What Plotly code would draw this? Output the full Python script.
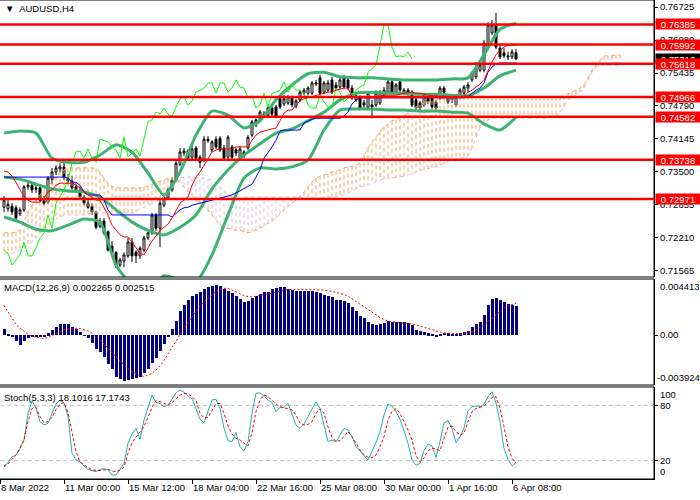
import plotly.graph_objects as go

FONT = "Liberation Sans, Arial, sans-serif"

# ---------------- price data (H4 bars, 8 Mar 08:00 .. 6 Apr 08:00) ----------------
opens = [0.7281, 0.7278, 0.7283, 0.7280, 0.7268, 0.7276, 0.7321, 0.7324, 0.7319, 0.7319,
         0.7297, 0.7291, 0.7336, 0.7350, 0.7356, 0.7360, 0.7338, 0.7332, 0.7321, 0.7315,
         0.7301, 0.7289, 0.7283, 0.7272, 0.7244, 0.7254, 0.7233, 0.7205, 0.7193, 0.7168,
         0.7176, 0.7186, 0.7213, 0.7193, 0.7186, 0.7197, 0.7221, 0.7231, 0.7266, 0.7240,
         0.7285, 0.7299, 0.7315, 0.7334, 0.7365, 0.7387, 0.7391, 0.7379, 0.7397, 0.7379,
         0.7373, 0.7414, 0.7393, 0.7414, 0.7416, 0.7397, 0.7379, 0.7399, 0.7393, 0.7377,
         0.7389, 0.7397, 0.7422, 0.7442, 0.7452, 0.7461, 0.7461, 0.7475, 0.7477, 0.7493,
         0.7483, 0.7485, 0.7495, 0.7479, 0.7491, 0.7504, 0.7504, 0.7504, 0.7522, 0.7534,
         0.7506, 0.7510, 0.7530, 0.7520, 0.7516, 0.7534, 0.7530, 0.7514, 0.7491, 0.7495,
         0.7485, 0.7477, 0.7481, 0.7481, 0.7485, 0.7500, 0.7506, 0.7526, 0.7504, 0.7526,
         0.7504, 0.7510, 0.7506, 0.7491, 0.7485, 0.7481, 0.7495, 0.7495, 0.7487, 0.7495,
         0.7514, 0.7495, 0.7491, 0.7481, 0.7500, 0.7504, 0.7514, 0.7530, 0.7536, 0.7549,
         0.7549, 0.7594, 0.7622, 0.7637, 0.7592, 0.7583, 0.7577, 0.7575, 0.7583]
highs = [0.7303, 0.7295, 0.7289, 0.7285, 0.7281, 0.7324, 0.7330, 0.7328, 0.7324, 0.7322,
         0.7303, 0.7342, 0.7358, 0.7363, 0.7367, 0.7369, 0.7346, 0.7342, 0.7328, 0.7322,
         0.7305, 0.7295, 0.7289, 0.7274, 0.7260, 0.7260, 0.7236, 0.7215, 0.7195, 0.7182,
         0.7193, 0.7221, 0.7221, 0.7197, 0.7205, 0.7225, 0.7235, 0.7270, 0.7270, 0.7295,
         0.7305, 0.7319, 0.7338, 0.7373, 0.7397, 0.7397, 0.7395, 0.7401, 0.7401, 0.7383,
         0.7420, 0.7420, 0.7412, 0.7420, 0.7420, 0.7403, 0.7422, 0.7403, 0.7397, 0.7401,
         0.7393, 0.7422, 0.7452, 0.7455, 0.7471, 0.7469, 0.7481, 0.7479, 0.7481, 0.7497,
         0.7500, 0.7500, 0.7499, 0.7493, 0.7510, 0.7514, 0.7518, 0.7528, 0.7530, 0.7540,
         0.7528, 0.7530, 0.7536, 0.7526, 0.7536, 0.7540, 0.7536, 0.7520, 0.7504, 0.7500,
         0.7491, 0.7508, 0.7491, 0.7510, 0.7510, 0.7516, 0.7532, 0.7532, 0.7524, 0.7530,
         0.7514, 0.7514, 0.7510, 0.7495, 0.7489, 0.7504, 0.7499, 0.7499, 0.7491, 0.7518,
         0.7518, 0.7499, 0.7499, 0.7499, 0.7514, 0.7520, 0.7526, 0.7547, 0.7565, 0.7565,
         0.7608, 0.7643, 0.7647, 0.7661, 0.7598, 0.7592, 0.7585, 0.7590, 0.7590]
lows = [0.7272, 0.7272, 0.7266, 0.7256, 0.7264, 0.7272, 0.7315, 0.7309, 0.7309, 0.7291,
        0.7285, 0.7287, 0.7326, 0.7344, 0.7350, 0.7334, 0.7326, 0.7315, 0.7311, 0.7297,
        0.7285, 0.7278, 0.7266, 0.7238, 0.7240, 0.7227, 0.7195, 0.7188, 0.7162, 0.7164,
        0.7164, 0.7182, 0.7174, 0.7172, 0.7180, 0.7193, 0.7217, 0.7227, 0.7235, 0.7203,
        0.7281, 0.7295, 0.7311, 0.7330, 0.7361, 0.7381, 0.7373, 0.7375, 0.7373, 0.7358,
        0.7369, 0.7407, 0.7389, 0.7395, 0.7389, 0.7373, 0.7375, 0.7375, 0.7381, 0.7373,
        0.7377, 0.7393, 0.7418, 0.7438, 0.7448, 0.7457, 0.7457, 0.7459, 0.7455, 0.7473,
        0.7479, 0.7481, 0.7477, 0.7475, 0.7487, 0.7500, 0.7500, 0.7500, 0.7518, 0.7500,
        0.7502, 0.7506, 0.7502, 0.7510, 0.7512, 0.7512, 0.7510, 0.7491, 0.7487, 0.7471,
        0.7475, 0.7473, 0.7455, 0.7477, 0.7481, 0.7497, 0.7502, 0.7502, 0.7502, 0.7506,
        0.7500, 0.7498, 0.7477, 0.7471, 0.7471, 0.7477, 0.7483, 0.7473, 0.7471, 0.7491,
        0.7502, 0.7483, 0.7485, 0.7477, 0.7497, 0.7500, 0.7506, 0.7526, 0.7532, 0.7545,
        0.7545, 0.7590, 0.7618, 0.7590, 0.7571, 0.7573, 0.7569, 0.7571, 0.7569]
closes = [0.7295, 0.7287, 0.7272, 0.7260, 0.7276, 0.7321, 0.7324, 0.7315, 0.7317, 0.7295,
          0.7289, 0.7338, 0.7350, 0.7358, 0.7360, 0.7338, 0.7332, 0.7319, 0.7315, 0.7301,
          0.7289, 0.7281, 0.7272, 0.7242, 0.7254, 0.7231, 0.7197, 0.7191, 0.7168, 0.7178,
          0.7188, 0.7213, 0.7186, 0.7186, 0.7201, 0.7221, 0.7231, 0.7266, 0.7240, 0.7289,
          0.7301, 0.7315, 0.7334, 0.7367, 0.7389, 0.7391, 0.7377, 0.7395, 0.7377, 0.7369,
          0.7414, 0.7411, 0.7409, 0.7399, 0.7393, 0.7377, 0.7418, 0.7379, 0.7387, 0.7395,
          0.7381, 0.7418, 0.7448, 0.7452, 0.7467, 0.7463, 0.7475, 0.7463, 0.7459, 0.7477,
          0.7493, 0.7497, 0.7481, 0.7489, 0.7506, 0.7510, 0.7514, 0.7524, 0.7524, 0.7504,
          0.7524, 0.7524, 0.7506, 0.7514, 0.7530, 0.7516, 0.7514, 0.7495, 0.7499, 0.7475,
          0.7481, 0.7504, 0.7477, 0.7504, 0.7506, 0.7510, 0.7526, 0.7506, 0.7520, 0.7510,
          0.7510, 0.7504, 0.7481, 0.7475, 0.7475, 0.7500, 0.7487, 0.7477, 0.7475, 0.7514,
          0.7506, 0.7487, 0.7495, 0.7495, 0.7510, 0.7516, 0.7520, 0.7544, 0.7553, 0.7559,
          0.7602, 0.7637, 0.7637, 0.7594, 0.7575, 0.7577, 0.7575, 0.7585, 0.7571]

# Bollinger bands, read every 4th bar
bb_upper = [0.7426, 0.7430, 0.7426, 0.7377, 0.7369, 0.7369, 0.7383, 0.7403, 0.7389, 0.7348,
            0.7305, 0.7350, 0.7422, 0.7469, 0.7461, 0.7436, 0.7450, 0.7491, 0.7520, 0.7542,
            0.7545, 0.7536, 0.7534, 0.7534, 0.7532, 0.7530, 0.7530, 0.7530, 0.7532, 0.7534,
            0.7579, 0.7629, 0.7641]
bb_mid = [0.7340, 0.7336, 0.7326, 0.7317, 0.7313, 0.7311, 0.7301, 0.7276, 0.7252, 0.7236,
          0.7227, 0.7242, 0.7266, 0.7317, 0.7354, 0.7383, 0.7405, 0.7426, 0.7434, 0.7450,
          0.7467, 0.7491, 0.7504, 0.7506, 0.7504, 0.7504, 0.7502, 0.7502, 0.7500, 0.7499,
          0.7514, 0.7538, 0.7549]
bb_lower = [0.7262, 0.7252, 0.7238, 0.7235, 0.7246, 0.7258, 0.7252, 0.7168, 0.7129, 0.7119,
            0.7147, 0.7139, 0.7135, 0.7188, 0.7266, 0.7338, 0.7358, 0.7356, 0.7360, 0.7373,
            0.7432, 0.7471, 0.7473, 0.7473, 0.7471, 0.7471, 0.7469, 0.7469, 0.7467, 0.7465,
            0.7444, 0.7432, 0.7457]

# Ichimoku
tenkan = [0.7352, 0.7350, 0.7342, 0.7330, 0.7315, 0.7303, 0.7295, 0.7291, 0.7291, 0.7291,
          0.7299, 0.7311, 0.7315, 0.7324, 0.7328, 0.7328, 0.7328, 0.7328, 0.7324, 0.7319,
          0.7311, 0.7305, 0.7301, 0.7295, 0.7295, 0.7280, 0.7266, 0.7246, 0.7236, 0.7227,
          0.7223, 0.7223, 0.7213, 0.7201, 0.7191, 0.7188, 0.7203, 0.7215, 0.7225, 0.7236,
          0.7242, 0.7248, 0.7260, 0.7276, 0.7289, 0.7295, 0.7301, 0.7324, 0.7340, 0.7350,
          0.7363, 0.7377, 0.7389, 0.7393, 0.7395, 0.7395, 0.7395, 0.7395, 0.7399, 0.7399,
          0.7399, 0.7399, 0.7412, 0.7422, 0.7428, 0.7430, 0.7432, 0.7434, 0.7436, 0.7450,
          0.7465, 0.7471, 0.7471, 0.7481, 0.7489, 0.7493, 0.7495, 0.7497, 0.7499, 0.7502,
          0.7504, 0.7506, 0.7506, 0.7510, 0.7512, 0.7514, 0.7514, 0.7497, 0.7497, 0.7497,
          0.7495, 0.7495, 0.7495, 0.7497, 0.7499, 0.7500, 0.7500, 0.7500, 0.7500, 0.7502,
          0.7504, 0.7506, 0.7506, 0.7504, 0.7504, 0.7502, 0.7500, 0.7499, 0.7499, 0.7497,
          0.7497, 0.7497, 0.7497, 0.7497, 0.7497, 0.7497, 0.7506, 0.7510, 0.7516, 0.7522,
          0.7530, 0.7549, 0.7565, 0.7579, 0.7588, 0.7594, 0.7598, 0.7598, 0.7598]
kijun = [0.7340, 0.7340, 0.7340, 0.7340, 0.7340, 0.7340, 0.7340, 0.7340, 0.7340, 0.7340,
         0.7340, 0.7340, 0.7340, 0.7340, 0.7340, 0.7340, 0.7338, 0.7330, 0.7330, 0.7324,
         0.7311, 0.7305, 0.7305, 0.7305, 0.7305, 0.7295, 0.7276, 0.7266, 0.7266, 0.7266,
         0.7266, 0.7266, 0.7266, 0.7266, 0.7266, 0.7266, 0.7266, 0.7266, 0.7266, 0.7266,
         0.7266, 0.7266, 0.7262, 0.7270, 0.7276, 0.7280, 0.7281, 0.7285, 0.7287, 0.7289,
         0.7291, 0.7293, 0.7295, 0.7297, 0.7299, 0.7301, 0.7303, 0.7305, 0.7309, 0.7313,
         0.7317, 0.7321, 0.7326, 0.7340, 0.7354, 0.7377, 0.7387, 0.7399, 0.7412, 0.7430,
         0.7432, 0.7432, 0.7432, 0.7432, 0.7432, 0.7446, 0.7450, 0.7453, 0.7455, 0.7455,
         0.7455, 0.7455, 0.7455, 0.7455, 0.7455, 0.7459, 0.7467, 0.7483, 0.7491, 0.7495,
         0.7495, 0.7495, 0.7495, 0.7495, 0.7495, 0.7495, 0.7495, 0.7495, 0.7495, 0.7495,
         0.7495, 0.7495, 0.7495, 0.7495, 0.7495, 0.7495, 0.7495, 0.7495, 0.7495, 0.7495,
         0.7495, 0.7495, 0.7495, 0.7495, 0.7495, 0.7495, 0.7497, 0.7504, 0.7510, 0.7514,
         0.7524, 0.7545, 0.7555, 0.7561, 0.7563, 0.7563, 0.7563, 0.7563, 0.7563]
span_a = [0.7231, 0.7231, 0.7231, 0.7233, 0.7236, 0.7252, 0.7272, 0.7285, 0.7295, 0.7305,
          0.7315, 0.7322, 0.7330, 0.7340, 0.7350, 0.7354, 0.7358, 0.7358, 0.7358, 0.7358,
          0.7358, 0.7358, 0.7358, 0.7356, 0.7350, 0.7338, 0.7328, 0.7322, 0.7319, 0.7319,
          0.7319, 0.7319, 0.7319, 0.7319, 0.7319, 0.7321, 0.7322, 0.7326, 0.7330, 0.7332,
          0.7334, 0.7338, 0.7340, 0.7336, 0.7328, 0.7321, 0.7311, 0.7303, 0.7295, 0.7287,
          0.7281, 0.7276, 0.7266, 0.7256, 0.7246, 0.7240, 0.7240, 0.7238, 0.7236, 0.7236,
          0.7233, 0.7231, 0.7233, 0.7236, 0.7240, 0.7244, 0.7250, 0.7254, 0.7260, 0.7268,
          0.7276, 0.7283, 0.7289, 0.7295, 0.7303, 0.7311, 0.7322, 0.7330, 0.7338, 0.7342,
          0.7344, 0.7346, 0.7350, 0.7352, 0.7354, 0.7358, 0.7360, 0.7361, 0.7363, 0.7367,
          0.7383, 0.7397, 0.7409, 0.7418, 0.7430, 0.7438, 0.7444, 0.7450, 0.7453, 0.7455,
          0.7459, 0.7467, 0.7473, 0.7477, 0.7481, 0.7485, 0.7487, 0.7489, 0.7491, 0.7493,
          0.7493, 0.7495, 0.7495, 0.7497, 0.7497, 0.7497, 0.7497, 0.7497, 0.7497, 0.7497,
          0.7497, 0.7497, 0.7497, 0.7497, 0.7497, 0.7497, 0.7497, 0.7497, 0.7497, 0.7497,
          0.7497, 0.7497, 0.7497, 0.7497, 0.7497, 0.7497, 0.7497, 0.7497, 0.7497, 0.7497,
          0.7499, 0.7502, 0.7506, 0.7510, 0.7514, 0.7520, 0.7534, 0.7549, 0.7559, 0.7569,
          0.7577, 0.7577, 0.7577, 0.7579, 0.7579]
span_b = [0.7191, 0.7191, 0.7191, 0.7193, 0.7197, 0.7201, 0.7207, 0.7213, 0.7221, 0.7231,
          0.7238, 0.7246, 0.7252, 0.7258, 0.7262, 0.7266, 0.7266, 0.7266, 0.7266, 0.7266,
          0.7266, 0.7268, 0.7270, 0.7270, 0.7270, 0.7270, 0.7270, 0.7270, 0.7270, 0.7270,
          0.7270, 0.7270, 0.7270, 0.7272, 0.7278, 0.7281, 0.7285, 0.7289, 0.7293, 0.7295,
          0.7301, 0.7309, 0.7319, 0.7328, 0.7338, 0.7340, 0.7340, 0.7340, 0.7340, 0.7338,
          0.7338, 0.7336, 0.7334, 0.7328, 0.7321, 0.7313, 0.7305, 0.7301, 0.7301, 0.7301,
          0.7301, 0.7301, 0.7301, 0.7301, 0.7301, 0.7301, 0.7301, 0.7301, 0.7301, 0.7301,
          0.7301, 0.7301, 0.7301, 0.7301, 0.7301, 0.7299, 0.7299, 0.7299, 0.7299, 0.7299,
          0.7299, 0.7299, 0.7301, 0.7301, 0.7303, 0.7305, 0.7309, 0.7313, 0.7317, 0.7321,
          0.7322, 0.7326, 0.7328, 0.7332, 0.7334, 0.7336, 0.7338, 0.7338, 0.7340, 0.7340,
          0.7342, 0.7344, 0.7346, 0.7350, 0.7352, 0.7354, 0.7356, 0.7358, 0.7360, 0.7363,
          0.7367, 0.7371, 0.7373, 0.7375, 0.7377, 0.7379, 0.7381, 0.7397, 0.7418, 0.7436,
          0.7448, 0.7452, 0.7455, 0.7455, 0.7455, 0.7455, 0.7455, 0.7455, 0.7455, 0.7455,
          0.7455, 0.7455, 0.7455, 0.7455, 0.7455, 0.7455, 0.7457, 0.7457, 0.7457, 0.7467,
          0.7477, 0.7491, 0.7497, 0.7500, 0.7506, 0.7514, 0.7530, 0.7545, 0.7555, 0.7557,
          0.7559, 0.7559, 0.7559, 0.7559, 0.7559]

# MACD(12,26,9)
macd_hist = [0.000488, 0.000026, -0.000077, -0.000488, -0.000745, -0.000488, -0.000231, -0.000180, -0.000129, -0.000180,
             -0.000129, 0.000154, 0.000411, 0.000668, 0.000848, 0.000848, 0.000848, 0.000668, 0.000488, 0.000283,
             -0.000026, -0.000231, -0.000617, -0.001054, -0.001311, -0.001722, -0.002236, -0.002673, -0.003264, -0.003444,
             -0.003624, -0.003521, -0.003444, -0.003367, -0.003264, -0.003007, -0.002673, -0.002159, -0.001825, -0.001259,
             -0.000694, -0.000103, 0.000488, 0.001105, 0.001876, 0.002390, 0.002801, 0.003110, 0.003264, 0.003367,
             0.003624, 0.003804, 0.003881, 0.003958, 0.003829, 0.003624, 0.003495, 0.003315, 0.003110, 0.002853,
             0.002596, 0.002647, 0.002904, 0.003110, 0.003238, 0.003367, 0.003418, 0.003624, 0.003675, 0.003752,
             0.003752, 0.003624, 0.003572, 0.003495, 0.003444, 0.003444, 0.003495, 0.003495, 0.003418, 0.003315,
             0.003187, 0.003110, 0.002981, 0.002801, 0.002724, 0.002647, 0.002544, 0.002210, 0.001876, 0.001516,
             0.001311, 0.001054, 0.000848, 0.000797, 0.000848, 0.000925, 0.001105, 0.001054, 0.001054, 0.001054,
             0.001054, 0.000925, 0.000797, 0.000411, 0.000334, 0.000231, 0.000129, 0.000026, -0.000154, 0.000026,
             0.000180, 0.000129, 0.000103, 0.000077, 0.000154, 0.000283, 0.000334, 0.000668, 0.000874, 0.001054,
             0.001619, 0.002339, 0.002853, 0.002930, 0.002724, 0.002596, 0.002467, 0.002390, 0.002265]
macd_signal = [0.002339, 0.001825, 0.001311, 0.000848, 0.000540, 0.000283, 0.000077, -0.000103, -0.000180, -0.000231,
               -0.000283, -0.000180, -0.000026, 0.000129, 0.000283, 0.000411, 0.000488, 0.000540, 0.000540, 0.000514,
               0.000437, 0.000334, 0.000154, -0.000103, -0.000386, -0.000694, -0.001054, -0.001388, -0.001722, -0.002030,
               -0.002339, -0.002621, -0.002853, -0.003058, -0.003187, -0.003238, -0.003161, -0.003007, -0.002750, -0.002416,
               -0.001979, -0.001516, -0.001002, -0.000488, 0.000026, 0.000540, 0.001002, 0.001439, 0.001876, 0.002262,
               0.002596, 0.002904, 0.003213, 0.003444, 0.003598, 0.003675, 0.003675, 0.003572, 0.003418, 0.003264,
               0.003110, 0.003033, 0.003007, 0.003058, 0.003110, 0.003161, 0.003213, 0.003290, 0.003367, 0.003444,
               0.003521, 0.003572, 0.003598, 0.003598, 0.003598, 0.003598, 0.003598, 0.003598, 0.003572, 0.003572,
               0.003547, 0.003495, 0.003444, 0.003367, 0.003290, 0.003187, 0.003084, 0.002853, 0.002647, 0.002442,
               0.002210, 0.001979, 0.001773, 0.001568, 0.001388, 0.001234, 0.001105, 0.001054, 0.001028, 0.001002,
               0.000977, 0.000925, 0.000874, 0.000797, 0.000720, 0.000643, 0.000540, 0.000437, 0.000334, 0.000231,
               0.000180, 0.000154, 0.000129, 0.000103, 0.000103, 0.000129, 0.000180, 0.000283, 0.000411, 0.000591,
               0.000797, 0.001054, 0.001311, 0.001568, 0.001900, 0.002120, 0.002300, 0.002420, 0.002515]

# Stochastic(5,3,3)
stoch_main = [14.1, 17.8, 24.3, 25.7, 33.3, 42.4, 71.4, 85.1, 76.8, 62.3,
              58.7, 60.5, 71.4, 81.5, 85.9, 83.0, 67.8, 27.9, 20.7, 18.8,
              14.1, 10.5, 9.1, 8.0, 10.5, 11.2, 9.8, 4.3, 4.3, 10.5,
              17.0, 38.8, 48.9, 55.1, 43.1, 64.1, 76.8, 91.3, 83.3, 82.2,
              78.6, 80.4, 86.6, 93.8, 96.7, 94.2, 90.2, 87.3, 76.8, 64.9,
              61.2, 74.3, 85.9, 86.6, 76.8, 55.1, 41.7, 40.6, 50.4, 35.1,
              30.4, 40.6, 71.4, 93.1, 93.8, 90.2, 85.9, 83.0, 73.2, 77.9,
              77.9, 82.2, 71.4, 58.7, 55.1, 59.8, 67.8, 75.7, 84.1, 76.8,
              58.7, 40.6, 42.4, 40.6, 47.8, 55.1, 53.3, 46.0, 35.1, 29.7,
              25.4, 20.7, 29.7, 39.5, 51.4, 69.6, 81.5, 79.3, 73.2, 64.9,
              52.5, 38.8, 20.7, 14.9, 17.0, 30.8, 38.0, 35.9, 23.6, 40.6,
              61.2, 63.4, 55.1, 39.5, 46.0, 55.1, 74.3, 78.6, 79.3, 78.6,
              81.5, 89.5, 94.9, 82.2, 62.3, 33.3, 21.4, 14.1, 18.1016]
stoch_signal = [13.4, 16.3, 21.4, 26.1, 33.3, 42.4, 62.3, 76.8, 77.9, 67.8,
                61.2, 62.3, 67.0, 75.7, 81.5, 83.0, 72.1, 49.6, 29.7, 18.8,
                15.2, 12.7, 9.8, 9.4, 9.1, 9.8, 10.5, 8.7, 8.0, 9.8,
                12.7, 27.9, 39.5, 45.3, 51.4, 56.9, 67.0, 77.9, 85.1, 84.1,
                82.2, 80.4, 83.0, 87.7, 91.3, 93.1, 92.4, 89.5, 85.1, 71.4,
                66.3, 67.0, 75.0, 81.5, 82.2, 71.4, 57.6, 48.9, 44.2, 42.4,
                38.8, 35.9, 50.4, 73.2, 85.9, 91.3, 89.5, 85.1, 81.5, 78.6,
                77.5, 76.4, 75.0, 69.6, 60.9, 58.7, 59.4, 62.3, 71.4, 76.4,
                71.4, 56.9, 45.3, 40.9, 41.7, 46.0, 51.4, 46.0, 38.0, 31.5,
                26.4, 23.6, 23.2, 26.1, 35.1, 46.0, 64.1, 73.2, 76.4, 71.4,
                62.3, 53.3, 42.4, 25.0, 18.8, 23.2, 30.8, 33.3, 32.6, 30.8,
                44.2, 56.2, 57.6, 51.4, 47.8, 49.6, 62.3, 73.2, 76.4, 77.9,
                79.3, 83.0, 88.8, 89.5, 76.8, 56.9, 35.1, 22.5, 17.1743]

# horizontal levels and axis labels
levels = [0.76385, 0.75992, 0.75618, 0.74966, 0.74582, 0.73738, 0.72971]
last_price = 0.75713
price_ticks = [0.71565, 0.72210, 0.72855, 0.73500, 0.74145, 0.74790, 0.75435, 0.76080, 0.76725]
time_tick_bars = [-1, 15, 31, 47, 63, 79, 95, 111, 127]
time_tick_text = ["8 Mar 2022", "11 Mar 00:00", "15 Mar 12:00", "18 Mar 04:00", "22 Mar 16:00",
                  "25 Mar 08:00", "30 Mar 00:00", "1 Apr 16:00", "6 Apr 08:00"]
macd_max, macd_min = 0.004413, -0.003924
stoch_levels = [20, 80]

bars = list(range(len(closes)))
cloud_bars = list(range(len(span_a)))
bb_bars = list(range(0, len(closes), 4))
chikou_bars = list(range(len(closes) - 26))

SANDY, THISTLE = "#F4A460", "#D8BFD8"
fig = go.Figure()

# kumo hatching: one dashed vertical stroke per bar
hatch = {SANDY: ([], []), THISTLE: ([], [])}
for i, a, b in zip(cloud_bars, span_a, span_b):
    xs, ys = hatch[SANDY if a >= b else THISTLE]
    xs += [i, i, None]
    ys += [a, b, None]
for color, (xs, ys) in hatch.items():
    fig.add_trace(go.Scatter(x=xs, y=ys, mode="lines", yaxis="y",
                             line=dict(color=color, width=1, dash="4px,3px")))
fig.add_trace(go.Scatter(x=cloud_bars, y=span_a, mode="lines", line=dict(color=SANDY, width=1, dash="4px,3px")))
fig.add_trace(go.Scatter(x=cloud_bars, y=span_b, mode="lines", line=dict(color=THISTLE, width=1, dash="4px,3px")))

fig.add_trace(go.Candlestick(
    x=bars, open=opens, high=highs, low=lows, close=closes, whiskerwidth=0,
    increasing=dict(line=dict(color="black", width=1), fillcolor="white"),
    decreasing=dict(line=dict(color="black", width=1), fillcolor="black"),
))

for band in (bb_upper, bb_mid, bb_lower):
    fig.add_trace(go.Scatter(x=bb_bars, y=band, mode="lines",
                             line=dict(color="#3CB371", width=3, shape="spline", smoothing=0.6)))

fig.add_trace(go.Scatter(x=chikou_bars, y=closes[26:], mode="lines", line=dict(color="#00FF00", width=1)))
fig.add_trace(go.Scatter(x=bars, y=kijun, mode="lines", line=dict(color="#0000FF", width=1)))
fig.add_trace(go.Scatter(x=bars, y=tenkan, mode="lines", line=dict(color="#FF0000", width=1)))

# MACD panel
fig.add_trace(go.Bar(x=bars, y=macd_hist, width=0.75, yaxis="y2",
                     marker=dict(color="#000080", line=dict(width=0))))
fig.add_trace(go.Scatter(x=bars, y=macd_signal, mode="lines", yaxis="y2",
                         line=dict(color="#FF0000", width=1, dash="2px,2px")))

# Stochastic panel
fig.add_trace(go.Scatter(x=bars, y=stoch_main, mode="lines", yaxis="y3",
                         line=dict(color="#20B2AA", width=1)))
fig.add_trace(go.Scatter(x=bars, y=stoch_signal, mode="lines", yaxis="y3",
                         line=dict(color="#FF0000", width=1, dash="3px,2px")))

fig.update_traces(showlegend=False, hoverinfo="skip")

shapes = []
for yref in ("y", "y2", "y3"):
    shapes.append(dict(type="rect", xref="paper", yref=yref + " domain", x0=-0.01, x1=1, y0=0, y1=1,
                       line=dict(color="black", width=1), layer="above"))
for lv in stoch_levels:
    shapes.append(dict(type="line", xref="paper", yref="y3", x0=0, x1=1, y0=lv, y1=lv,
                       line=dict(color="#C0C0C0", width=1, dash="4px,3px"), layer="below"))
for lv in levels:
    shapes.append(dict(type="line", xref="paper", yref="y", x0=-0.01, x1=1, y0=lv, y1=lv,
                       line=dict(color="#FF0000", width=2.5), layer="above"))

small = dict(family=FONT, size=9.5, color="black")
annotations = [
    dict(xref="paper", yref="y", x=1, y=last_price, xanchor="left", xshift=1, text=f"{last_price:.5f}",
         showarrow=False, bgcolor="black", font=dict(family=FONT, size=9.5, color="white"),
         width=44, height=10, borderpad=0),
]
for lv in levels:
    annotations.append(dict(xref="paper", yref="y", x=1, y=lv, xanchor="left", xshift=1, text=f"{lv:.5f}",
                            showarrow=False, bgcolor="#FF0000", font=dict(family=FONT, size=9.5, color="white"),
                            width=44, height=10, borderpad=0))
annotations += [
    dict(xref="paper", yref="paper", x=0, y=1, xanchor="left", yanchor="top", xshift=3, yshift=-1,
         text="\u25bc  AUDUSD,H4", showarrow=False, font=small),
    dict(xref="paper", yref="y2 domain", x=0, y=1, xanchor="left", yanchor="top", xshift=2, yshift=-1,
         text="MACD(12,26,9) 0.002265 0.002515", showarrow=False, font=small),
    dict(xref="paper", yref="y3 domain", x=0, y=1, xanchor="left", yanchor="top", xshift=2, yshift=-3,
         text="Stoch(5,3,3) 18.1016 17.1743", showarrow=False, font=small),
    dict(xref="paper", yref="y2 domain", x=1, y=1, xanchor="left", yanchor="top", xshift=4,
         text=f"{macd_max:.6f}", showarrow=False, font=small),
    dict(xref="paper", yref="y2 domain", x=1, y=0, xanchor="left", yanchor="bottom", xshift=1,
         text=f"{macd_min:.6f}", showarrow=False, font=small),
    dict(xref="paper", yref="y3 domain", x=1, y=1, xanchor="left", yanchor="top", xshift=4,
         text="100", showarrow=False, font=small),
    dict(xref="paper", yref="y3 domain", x=1, y=0, xanchor="left", yanchor="bottom", xshift=4,
         text="0", showarrow=False, font=small),
]

axis_common = dict(side="right", anchor="x", showgrid=False, zeroline=False, showline=True,
                   linecolor="black", linewidth=1, ticks="outside", ticklen=3, tickcolor="black",
                   tickfont=small, fixedrange=True)

fig.update_layout(
    width=700, height=500, autosize=False,
    margin=dict(l=0, r=46, t=0, b=21, pad=0),
    paper_bgcolor="white", plot_bgcolor="white",
    showlegend=False, hovermode=False, bargap=0,
    font=dict(family=FONT, size=9.5, color="black"),
    xaxis=dict(range=[-1, 162.5], anchor="y3", showgrid=False, zeroline=False, showline=True,
               linecolor="black", ticks="outside", ticklen=4, tickcolor="black", tickangle=0,
               tickvals=time_tick_bars, ticktext=time_tick_text, ticklabelposition="outside right",
               tickfont=small, rangeslider=dict(visible=False), fixedrange=True),
    yaxis=dict(domain=[0.4217, 1.0], range=[0.71447, 0.76862],
               tickvals=price_ticks, ticktext=[f"{t:.5f}" for t in price_ticks], **axis_common),
    yaxis2=dict(domain=[0.1962, 0.4175], range=[macd_min, macd_max],
                tickvals=[0], ticktext=["0.00"], **axis_common),
    yaxis3=dict(domain=[0.0, 0.1921], range=[0, 100],
                tickvals=stoch_levels, ticktext=[str(v) for v in stoch_levels], **axis_common),
    shapes=shapes,
    annotations=annotations,
)

# the page's default body margin would shift the chart; remove it
fig.write_html("out.html", config={"displayModeBar": False},
               post_script="document.body.style.margin='0';")
